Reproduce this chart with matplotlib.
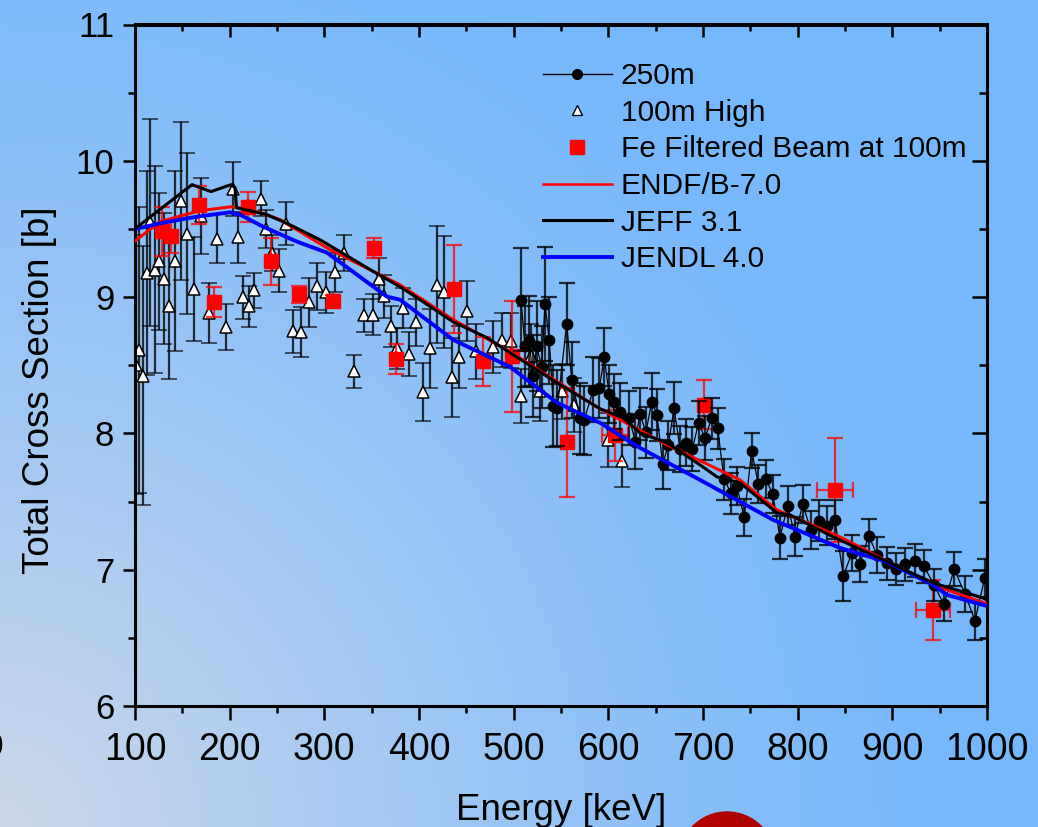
import numpy as np
import matplotlib
matplotlib.use("Agg")
import matplotlib.pyplot as plt
from matplotlib.lines import Line2D
from matplotlib.patches import Circle
from matplotlib.ticker import MultipleLocator

plt.rcParams['font.family'] = ['Liberation Sans', 'DejaVu Sans']

# ------------------------------------------------------------
# 250 m flight path (black circles, connected)
# ------------------------------------------------------------
e250 = [507.7, 512.0, 516.5, 520.1, 524.3, 529.6, 533.1, 537.6, 541.9, 546.1,
        556.0, 561.3, 570.1, 574.3, 584.1, 590.5, 595.7, 600.7, 606.3, 612.3,
        622.1, 628.5, 633.4, 639.7, 645.8, 651.4, 657.4, 663.3, 669.5, 675.7,
        682.0, 688.7, 695.4, 702.1, 709.2, 715.5, 722.2, 729.6, 735.6, 743.6,
        751.4, 758.4, 766.2, 773.6, 781.3, 789.5, 797.2, 805.3, 813.8, 822.2,
        831.0, 839.4, 848.2, 857.1, 865.8, 875.0, 883.8, 894.0, 903.9, 913.6,
        923.6, 933.4, 944.0, 954.6, 965.3, 976.8, 987.3, 997.6]
xs250 = [8.981, 8.638, 8.675, 8.423, 8.638, 8.487, 8.949, 8.682, 8.203, 8.186,
         8.805, 8.394, 8.112, 8.095, 8.320, 8.333, 8.560, 8.289, 8.234, 8.159,
         8.112, 7.940, 8.144, 8.007, 8.234, 8.137, 7.775, 7.913, 8.186, 7.887,
         7.933, 7.887, 8.076, 7.965, 8.112, 8.036, 7.664, 7.562, 7.615, 7.383,
         7.874, 7.628, 7.664, 7.557, 7.236, 7.471, 7.243, 7.481, 7.292, 7.358,
         7.324, 7.368, 6.954, 7.121, 7.041, 7.250, 7.109, 7.048, 7.006, 7.040,
         7.065, 7.026, 6.888, 6.745, 7.004, 6.822, 6.626, 6.940]
err250 = [0.38, 0.30, 0.33, 0.30, 0.33, 0.30, 0.42, 0.32, 0.30, 0.28,
          0.30, 0.28, 0.26, 0.25, 0.24, 0.22, 0.21, 0.21, 0.20, 0.21,
          0.20, 0.20, 0.19, 0.19, 0.21, 0.19, 0.18, 0.18, 0.19, 0.17,
          0.17, 0.16, 0.16, 0.16, 0.15, 0.15, 0.15, 0.15, 0.14, 0.135,
          0.13, 0.14, 0.14, 0.14, 0.16, 0.14, 0.14, 0.14, 0.14, 0.15,
          0.14, 0.14, 0.18, 0.13, 0.13, 0.12, 0.13, 0.12, 0.12, 0.12,
          0.12, 0.12, 0.12, 0.12, 0.125, 0.13, 0.14, 0.14]

# ------------------------------------------------------------
# 100 m high-energy run (white triangles)
# ------------------------------------------------------------
e100 = [101.1, 104.5, 108.1, 112.4, 115.8, 121.1, 125.7, 131.0, 136.2, 142.3,
        148.6, 155.2, 162.3, 169.7, 178.2, 186.9, 195.8, 203.2, 209.1, 213.8,
        220.4, 226.0, 232.8, 238.1, 244.4, 252.4, 259.5, 267.2, 275.4, 283.8,
        292.6, 301.4, 311.3, 321.1, 331.7, 342.2, 351.7, 358.1, 363.3, 370.1,
        376.4, 382.8, 389.4, 396.5, 403.9, 411.6, 418.7, 426.4, 434.9, 442.6,
        451.0, 459.9, 477.9, 487.4, 497.2, 507.4, 518.0, 527.8, 550.7, 563.7,
        600.0, 614.1]
xs100 = [8.504, 8.614, 8.423, 9.177, 9.548, 9.201, 9.262, 9.135, 8.937, 9.262,
         9.708, 9.466, 9.059, 9.593, 8.883, 9.427, 8.780, 9.794, 9.438, 8.998,
         8.932, 9.049, 9.722, 9.500, 9.324, 9.194, 9.539, 8.748, 8.744, 8.961,
         9.079, 9.035, 9.181, 9.324, 8.455, 8.866, 8.871, 9.135, 9.005, 8.785,
         8.626, 8.920, 8.584, 8.814, 8.303, 8.623, 9.091, 9.037, 8.413, 8.560,
         8.900, 8.601, 8.631, 8.687, 8.680, 8.276, 8.570, 8.308, 8.308, 8.210,
         7.953, 7.794]
err100 = [0.95, 1.05, 0.95, 0.75, 0.76, 0.76, 0.50, 0.48, 0.54, 0.66,
          0.58, 0.59, 0.38, 0.28, 0.22, 0.18, 0.17, 0.20, 0.19, 0.16,
          0.15, 0.13, 0.13, 0.14, 0.13, 0.16, 0.16, 0.16, 0.18, 0.18,
          0.17, 0.15, 0.14, 0.13, 0.12, 0.12, 0.15, 0.15, 0.16, 0.15,
          0.15, 0.15, 0.16, 0.17, 0.21, 0.29, 0.43, 0.41, 0.29, 0.23,
          0.22, 0.20, 0.19, 0.20, 0.20, 0.20, 0.23, 0.22, 0.20, 0.20,
          0.20, 0.19]

# ------------------------------------------------------------
# Fe filtered beam at 100 m (red squares)
# ------------------------------------------------------------
efe = [128.2, 138.0, 168.0, 183.8, 219.0, 243.7, 273.2, 308.8, 352.5, 375.7,
       437.0, 468.0, 498.5, 556.7, 607.0, 701.4, 839.0, 942.6]
xsfe = [9.482, 9.446, 9.678, 8.964, 9.660, 9.262, 9.020, 8.974, 9.360, 8.548,
        9.060, 8.530, 8.565, 7.936, 7.985, 8.210, 7.586, 6.707]
yerrfe = [0.18, 0.12, 0.14, 0.11, 0.11, 0.17, 0.06, 0.04, 0.07, 0.11,
          0.32, 0.18, 0.41, 0.40, 0.19, 0.18, 0.38, 0.22]
xerrfe = [0, 0, 0, 0, 0, 0, 0, 0, 0, 0,
          0, 0, 0, 0, 14, 0, 19, 18]

# ------------------------------------------------------------
# Evaluated libraries
# ------------------------------------------------------------
e_endf = [100.0, 101.8, 126.4, 168.7, 201.4, 218.3, 239.4, 253.2, 306.0, 380.0,
          436.0, 496.0, 591.0, 662.0, 739.0, 778.0, 845.0, 943.0, 1000.0]
xs_endf = [9.41, 9.421, 9.554, 9.634, 9.663, 9.648, 9.604, 9.568, 9.348, 9.090,
           8.835, 8.600, 8.180, 7.916, 7.659, 7.439, 7.240, 6.888, 6.749]

e_jeff = [100.0, 160.2, 180.3, 201.4, 205.6, 207.2, 238.4, 260.6, 295.4, 355.6,
          379.9, 401.0, 435.9, 471.8, 496.1, 545.8, 591.2, 615.5, 633.4, 662.0,
          696.8, 714.8, 739.1, 778.2, 791.9, 837.3, 897.5, 943.0, 995.8, 1000.0]
xs_jeff = [9.502, 9.825, 9.774, 9.825, 9.803, 9.656, 9.607, 9.541, 9.421, 9.172,
           9.076, 8.981, 8.819, 8.702, 8.592, 8.371, 8.181, 8.115, 8.004, 7.931,
           7.769, 7.681, 7.637, 7.417, 7.402, 7.241, 7.050, 6.903, 6.793, 6.778]

e_jendl = [100.0, 129.6, 165.5, 200.4, 210.9, 235.2, 271.1, 302.8, 366.2, 380.0,
           436.0, 496.0, 545.8, 591.2, 633.4, 696.8, 774.0, 844.7, 894.4, 943.0,
           957.7, 995.8, 1000.0]
xs_jendl = [9.499, 9.546, 9.590, 9.622, 9.605, 9.517, 9.407, 9.326, 9.003, 8.981,
            8.687, 8.489, 8.225, 8.078, 7.894, 7.659, 7.366, 7.160, 7.057, 6.888,
            6.815, 6.742, 6.734]

W, H = 1038, 827
fig = plt.figure(figsize=(W / 100, H / 100), dpi=100)

# slide background: blue, fading to pale grey-blue towards the lower left
bg = fig.add_axes([0, 0, 1, 1], zorder=-10)
yy, xx = np.mgrid[0:H, 0:W]
d = np.hypot(xx, H - yy)
w = np.clip(1 - d / 1000.0, 0, 1) ** 1.3
blue = np.array([118, 184, 252]) / 255
pale = np.array([205, 216, 234]) / 255
img = blue[None, None, :] * (1 - w[..., None]) + pale[None, None, :] * w[..., None]
bg.imshow(img, extent=(0, W, H, 0), aspect='auto', interpolation='bilinear')
bg.add_patch(Circle((727, 860), 48, color='#b00000'))
bg.text(-6, 748, "0", fontsize=24, ha='center', va='center')
bg.set_xlim(0, W)
bg.set_ylim(H, 0)
bg.axis('off')

ax = fig.add_axes([135 / W, 1 - 706 / H, 852 / W, 681.5 / H])
ax.patch.set_alpha(0)

ax.errorbar(e100, xs100, yerr=err100, fmt='^', ms=8.5, mfc='white', mec='black',
            mew=1.1, ecolor=(0, 0, 0, 0.78), elinewidth=1.6, capsize=5.5,
            capthick=1.6, zorder=2)
ax.errorbar(efe, xsfe, yerr=yerrfe, xerr=xerrfe, fmt='s', ms=10.5, color='red',
            ecolor=(1, 0, 0, 0.75), elinewidth=1.6, capsize=5.5, capthick=1.6,
            zorder=3)
ax.errorbar(e250, xs250, yerr=err250, fmt='o-', ms=7.5, color='black', lw=0.9,
            ecolor=(0, 0, 0, 0.78), elinewidth=1.6, capsize=5.5, capthick=1.6,
            zorder=4)

ax.plot(e_endf, xs_endf, color='red', lw=2.2, zorder=5)
ax.plot(e_jeff, xs_jeff, color='black', lw=2.2, zorder=6)
ax.plot(e_jendl, xs_jendl, color='blue', lw=2.8, zorder=5)

ax.set_xlim(100, 1000)
ax.set_ylim(6, 11)
ax.xaxis.set_major_locator(MultipleLocator(100))
ax.xaxis.set_minor_locator(MultipleLocator(50))
ax.yaxis.set_major_locator(MultipleLocator(1))
ax.yaxis.set_minor_locator(MultipleLocator(0.5))
ax.tick_params(which='both', direction='out', width=1.8)
ax.tick_params(axis='x', which='major', length=10, pad=9, labelsize=27)
ax.tick_params(axis='y', which='major', length=9, pad=6, labelsize=25)
ax.tick_params(which='minor', length=5)
for s in ax.spines.values():
    s.set_linewidth(2.2)

# inward ticks on the top and right edges
top = ax.secondary_xaxis('top')
top.xaxis.set_major_locator(MultipleLocator(100))
top.xaxis.set_minor_locator(MultipleLocator(50))
top.tick_params(which='both', direction='in', width=1.8, labeltop=False)
top.tick_params(which='major', length=9)
top.tick_params(which='minor', length=5)
top.spines['top'].set_linewidth(2.2)
right = ax.secondary_yaxis('right')
right.yaxis.set_major_locator(MultipleLocator(1))
right.yaxis.set_minor_locator(MultipleLocator(0.5))
right.tick_params(which='both', direction='in', width=1.8, labelright=False)
right.tick_params(which='major', length=11)
right.tick_params(which='minor', length=6)
right.spines['right'].set_linewidth(2.2)

ax.set_xlabel("Energy [keV]", fontsize=26.5, labelpad=18)
ax.set_ylabel("Total Cross Section [b]", fontsize=26.5)
ax.yaxis.set_label_coords(-0.091, 0.464)

handles = [
    Line2D([], [], color='black', lw=1.0, marker='o', ms=7),
    Line2D([], [], ls='none', marker='^', ms=7.5, mfc='white', mec='black', mew=1.0),
    Line2D([], [], ls='none', marker='s', ms=10, color='red'),
    Line2D([], [], color='red', lw=1.8),
    Line2D([], [], color='black', lw=2.2),
    Line2D([], [], color='blue', lw=2.8),
]
labels = ["250m", "100m High", "Fe Filtered Beam at 100m", "ENDF/B-7.0",
          "JEFF 3.1", "JENDL 4.0"]
ax.legend(handles, labels, loc='upper left', bbox_to_anchor=(0.479, 0.945),
          frameon=False, fontsize=21.5, borderpad=0, borderaxespad=0,
          handlelength=2.3, handletextpad=0.3, labelspacing=0.29)

fig.savefig("out.png", dpi=100)
